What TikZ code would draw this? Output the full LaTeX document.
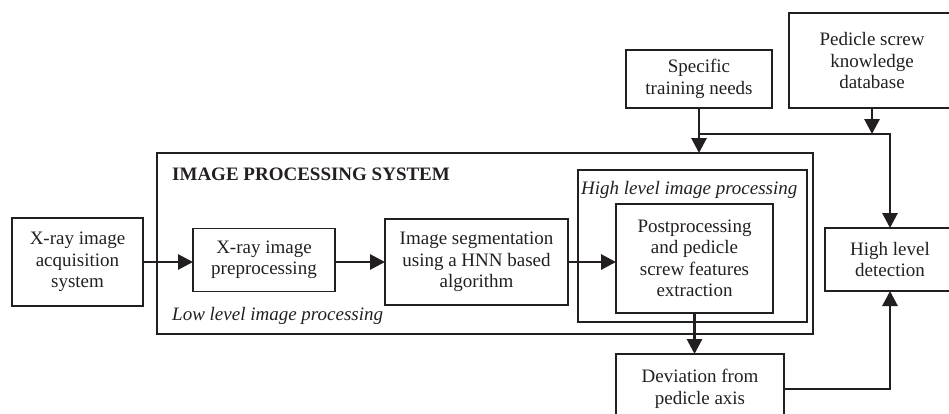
\documentclass[tikz,border=0pt]{standalone}
\usepackage{fontspec}
\setmainfont{Liberation Serif}
\usetikzlibrary{arrows.meta}
\definecolor{ink}{HTML}{231F20}
\tikzset{
  box/.style={draw=ink, line width=1.4pt, inner sep=0pt, outer sep=0pt,
    align=center, text=ink, font=\fontsize{19}{21.5}\selectfont},
  flow/.style={draw=ink, line width=2.9pt,
    -{Triangle[length=15pt,width=15pt]}},
  label/.style={inner sep=0pt, text=ink, font=\fontsize{19}{21.5}\selectfont}
}
\begin{document}
\begin{tikzpicture}[x=1pt,y=-1pt]
\useasboundingbox (0,0) rectangle (949,413);
\clip (0,0) rectangle (949,413);

% outer system frame and high level frame
\node[box, minimum width=656pt, minimum height=181pt] (sys) at (485,243.5) {};
\node[box, minimum width=229pt, minimum height=152pt] (high) at (692.5,246) {};
\node[label, font=\fontsize{19}{21.5}\selectfont\bfseries, anchor=base west] (systitle) at (172,180) {IMAGE PROCESSING SYSTEM};
\node[label, font=\fontsize{19}{21.5}\selectfont\itshape, anchor=base west] (lowtitle) at (172,320) {Low level image processing};
\node[label, font=\fontsize{19}{21.5}\selectfont\itshape, anchor=base west] (hightitle) at (581,194) {High level image processing};

% process boxes
\node[box, minimum width=131pt, minimum height=88pt] (acq) at (77.5,262) {X-ray image\\acquisition\\system};
\node[box, minimum width=142pt, minimum height=63pt] (pre) at (264,260) {X-ray image\\preprocessing};
\node[box, minimum width=183pt, minimum height=86pt] (seg) at (476.5,262) {Image segmentation\\using a HNN based\\algorithm};
\node[box, minimum width=157pt, minimum height=109pt] (post) at (694.5,258.5) {Postprocessing\\and pedicle\\screw features\\extraction};
\node[box, minimum width=168pt, minimum height=70pt] (dev) at (700,389) {Deviation from\\pedicle axis};
\node[box, minimum width=146pt, minimum height=58pt] (spec) at (699,79) {Specific\\training needs};
\node[box, minimum width=166pt, minimum height=95pt] (db) at (872,60.5) {Pedicle screw\\knowledge\\database};
\node[box, minimum width=130pt, minimum height=63pt] (det) at (890,259.5) {High level\\detection};

% connectors
\draw[flow] (acq.east) -- (pre.west |- acq.east);
\draw[flow] (pre.east |- seg.west) -- (seg.west);
\draw[flow] (seg.east) -- (post.west |- seg.east);
\draw[flow] (post.south) -- (post.south |- dev.north);
\draw[flow] (spec.south) -- (spec.south |- sys.north);
\coordinate (jl) at (699,134);
\coordinate (jr) at (det.north |- jl);
\draw[flow] (jl) -- (jr) -- (det.north);
\draw[flow] (db.south) -- (db.south |- jl);
\draw[flow] (dev.east) -- (det.south |- dev.east) -- (det.south);
\end{tikzpicture}
\end{document}
